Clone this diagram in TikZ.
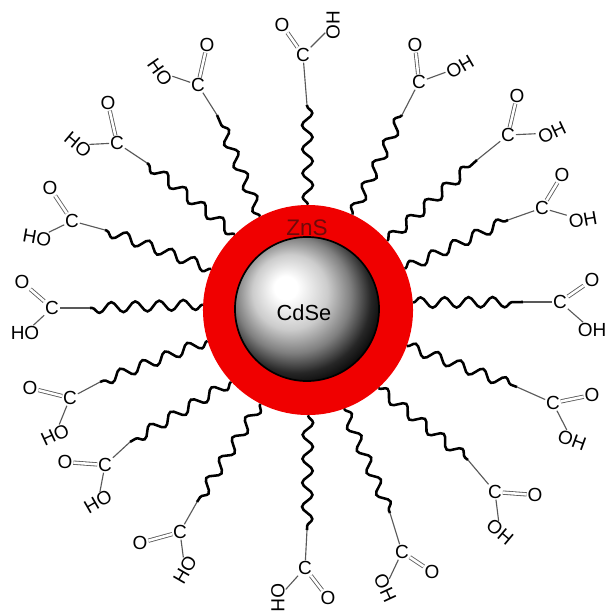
\documentclass[tikz,border=0pt]{standalone}
\usepackage{fontspec}
\setmainfont{Liberation Sans}
\usetikzlibrary{decorations.pathmorphing,shadings}

\definecolor{shellred}{RGB}{240,0,0}
\definecolor{znstext}{RGB}{110,10,10}

% light spot up left, dark rim
\pgfdeclareradialshading{coreball}{\pgfpoint{-8bp}{8bp}}{%
  color(0bp)=(white); color(4bp)=(white); color(13bp)=(black!20);
  color(20bp)=(black!50); color(26bp)=(black!85); color(31bp)=(black); color(50bp)=(black)}

\begin{document}
\begin{tikzpicture}[
        x=0.025cm, y=-0.025cm,
        atom/.style={inner sep=0.5pt, font=\fontsize{13.5}{13.5}\selectfont},
        bond/.style={line width=0.8pt, draw=black!65},
        dbond/.style={bond, double, double distance=1.8pt, line width=0.6pt},
        chain/.style={line width=1.8pt, decorate,
          decoration={snake, segment length=0.6cm, amplitude=0.13cm}}
      ]
        \useasboundingbox (0,0) rectangle (607,612);

        % ZnS shell and CdSe core
        \node (shell) [circle, fill=shellred, minimum size=5.25cm, inner sep=0pt] at (308,310) {};
        \node (core) [circle, draw=black, line width=1.2pt, shading=coreball,
          minimum size=3.6cm, inner sep=0pt] at (307,309) {};
        \node (zns) [font=\fontsize{16}{16}\selectfont, text=znstext] at (307,228) {ZnS};
        \node (cdse) [font=\fontsize{15.5}{15.5}\selectfont] at (304,313) {CdSe};

        % ligands: shell angle / chain end / C / O / OH / rotation / label
        \foreach \a/\wx/\wy/\cx/\cy/\ox/\oy/\hx/\hy/\r/\t [count=\i] in {
            90/307/105/303/55/282/25/333/25/90/OH,
            65/402/115/419/82/415/45/460/67/30/OH,
            41/477/160/508/135/517/96/552/133/25/OH,
            23/508/220/542/208/562/175/583/220/10/OH,
            4/523/302/560/302/592/280/592/330/0/OH,
            340/517/387/553/403/592/395/572/440/-20/OH,
            312/468/460/495/492/535/495/500/532/-40/OH,
            290/390/513/402/552/432/572/385/588/-65/OH,
            270/307/530/305/568/328/598/278/598/-90/OH,
            243/197/502/180/532/140/543/185/570/60/HO,
            223/130/442/105/465/65/462/98/502/30/HO,
            197/100/382/70/398/30/388/55/435/25/HO,
            177/90/308/52/308/22/282/25/333/0/HO,
            157/105/230/72/221/50/188/37/238/-10/HO,
            134/147/163/117/143/108/103/78/145/-40/HO,
            117/217/115/198/85/207/45/160/72/-55/HO}
        {
          \coordinate (w\i) at (\wx,\wy);
          \node (c\i) [atom] at (\cx,\cy) {C};
          \node (o\i) [atom] at (\ox,\oy) {O};
          \node (h\i) [atom, rotate=\r] at (\hx,\hy) {\t};
          \draw[chain] (shell.\a) -- (w\i);
          \draw[bond] (w\i) -- (c\i);
          \draw[dbond] (c\i) -- (o\i);
          \draw[bond] (c\i) -- (h\i);
        }
\end{tikzpicture}
\end{document}
